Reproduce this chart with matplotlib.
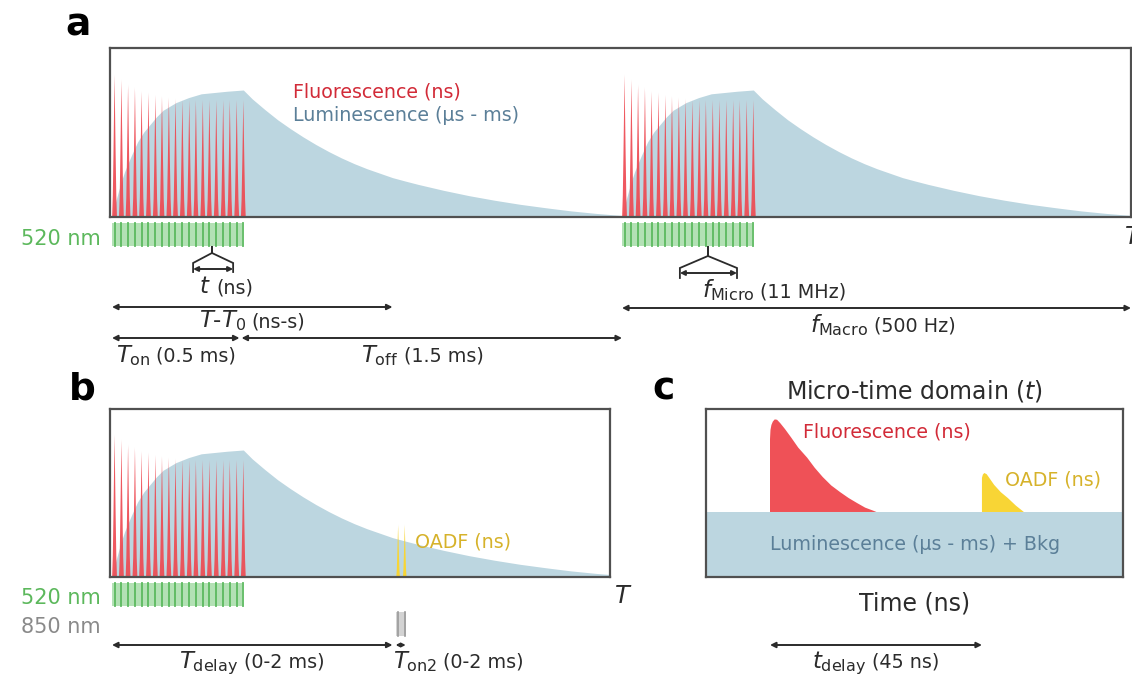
import matplotlib
matplotlib.use("Agg")
import matplotlib.pyplot as plt
import matplotlib.transforms as mtransforms
from matplotlib.patches import Rectangle

T_ON_MS = 0.5          # excitation on-time
T_OFF_MS = 1.5         # excitation off-time
PERIOD_MS = 2.0        # macro period (500 Hz)
T_MINUS_T0_MS = 1.10   # span of the T-T0 arrow
T_DELAY_MS = 1.10      # delay before the 850 nm pulse
T_ON2_MS = 0.04        # 850 nm on-time (drawn width)

# 11 MHz micro pulses inside one on-window (ms) and their fluorescence heights
spike_t_ms = [0.010, 0.037, 0.063, 0.090, 0.116, 0.143, 0.170, 0.196, 0.223, 0.249,
              0.276, 0.303, 0.329, 0.356, 0.382, 0.409, 0.436, 0.462, 0.489, 0.515]
spike_h = [1.12, 1.08, 1.04, 1.02, 0.99, 0.98, 0.96, 0.95, 0.94, 0.93,
           0.92, 0.92, 0.92, 0.92, 0.92, 0.92, 0.92, 0.92, 0.92, 0.92]

# luminescence build-up and decay (ms, normalised to peak)
lum_t_ms = [0.0, 0.01, 0.025, 0.04, 0.05, 0.075, 0.1, 0.125, 0.15, 0.175, 0.2, 0.25,
            0.3, 0.35, 0.4, 0.45, 0.515, 0.55, 0.6, 0.65, 0.7, 0.75, 0.8, 0.85,
            0.9, 0.95, 1.0, 1.05, 1.1, 1.15, 1.2, 1.3, 1.4, 1.5, 1.6, 1.7, 1.8,
            1.9, 2.0]
lum_v = [0.0, 0.09, 0.20, 0.30, 0.36, 0.48, 0.59, 0.67, 0.73, 0.79, 0.84, 0.90,
         0.94, 0.97, 0.98, 0.99, 1.0, 0.93, 0.845, 0.765, 0.695, 0.63, 0.57, 0.515,
         0.465, 0.42, 0.38, 0.345, 0.31, 0.283, 0.257, 0.21, 0.168, 0.132, 0.10,
         0.073, 0.048, 0.028, 0.012]

# OADF spikes in panel b (ms)
oadf_t_ms = [1.122, 1.148]
oadf_h = [0.41, 0.41]

# panel c: micro-time (ns)
bkg_level = 0.387
fl_t_ns = [0.0, 0.0, 0.1, 0.3, 0.6, 1.0, 1.5, 2.2, 3.2, 4.5, 6.0, 7.9, 9.5, 11.2,
           13.0, 14.9, 16.7, 18.5, 20.2, 21.9, 22.6]
fl_v = [0.387, 0.82, 0.875, 0.905, 0.925, 0.938, 0.936, 0.915, 0.88, 0.83, 0.77,
        0.71, 0.65, 0.595, 0.545, 0.505, 0.47, 0.44, 0.413, 0.395, 0.387]
oadf_c_t_ns = [45.0, 45.0, 45.2, 45.5, 46.0, 46.8, 47.6, 49.0, 50.5, 52.2, 53.9]
oadf_c_v = [0.387, 0.59, 0.610, 0.619, 0.612, 0.58, 0.548, 0.505, 0.47, 0.425, 0.387]
T_DELAY_NS = 45

# ---------------- style ----------------
RED = "#ee4a52"
RED_TXT = "#d22b38"
LUM = "#bcd6e0"
LUM_TXT = "#5b7f98"
GREEN_FILL = "#b3e1b5"
GREEN_LINE = "#5cba5f"
GREEN_TXT = "#5cb85c"
YEL = "#f8d535"
YEL_TXT = "#d6b22a"
GRAY_TXT = "#8a8a8a"
EDGE = "#505050"
INK = "#2b2b2b"

W, H = 1132, 674
fig = plt.figure(figsize=(W / 100, H / 100), dpi=100)
ID = mtransforms.IdentityTransform()
PX_Y = mtransforms.Affine2D().scale(1, -1).translate(0, H)


def px_axes(x0, y0, x1, y1):
    return fig.add_axes([x0 / W, 1 - y1 / H, (x1 - x0) / W, (y1 - y0) / H])


def bt(ax):
    return mtransforms.blended_transform_factory(ax.transData, PX_Y)


def style_box(ax, xlim, ylim):
    ax.set_xlim(*xlim)
    ax.set_ylim(*ylim)
    ax.set_autoscale_on(False)
    ax.set_xticks([])
    ax.set_yticks([])
    for s in ax.spines.values():
        s.set_color(EDGE)
        s.set_linewidth(1.6)
        s.set_zorder(5)


def ftext(x, y, s, **kw):
    kw.setdefault("va", "baseline")
    return fig.text(x, H - y, s, transform=ID, **kw)


def pair(anchor_x, y, math, plain, ha="center", msize=16.5, psize=13.8, color=INK):
    t1 = ftext(0, y, math, fontsize=msize, color=color, ha="left")
    t2 = ftext(0, y, plain, fontsize=psize, color=color, ha="left")
    r = fig.canvas.get_renderer()
    w1 = t1.get_window_extent(r).width
    w2 = t2.get_window_extent(r).width
    gap = 0.30 * psize * 100 / 72
    total = w1 + gap + w2
    x0 = anchor_x - total / 2 if ha == "center" else anchor_x
    t1.set_x(x0)
    t2.set_x(x0 + w1 + gap)


def disp_x(ax, x):
    return ax.transData.transform((x, 0))[0]


def harrow(ax, x0, x1, y, ms=8):
    tr = bt(ax)
    ax.annotate("", xy=(x1, y), xytext=(x0, y), xycoords=tr, textcoords=tr,
                arrowprops=dict(arrowstyle="<|-|>", color=INK, lw=1.4, mutation_scale=ms,
                                shrinkA=0, shrinkB=0),
                annotation_clip=False)


def spikes(ax, times, heights, width, color, offset=0.0, alpha=0.92):
    # needle-shaped pulses: broad base, concave sides, sharp tip
    for t, h in zip(times, heights):
        c = t + offset
        xs = [c - width / 2, c - width * 0.36, c - width * 0.22, c, c + width * 0.22,
              c + width * 0.36, c + width / 2]
        ys = [0, 0.15 * h, 0.45 * h, h, 0.45 * h, 0.15 * h, 0]
        ax.fill(xs, ys, color=color, lw=0, alpha=alpha, zorder=3)


def train(ax, t0, t1, line_ts, ytop, ybot, fill, line, lw=1.3):
    tr = bt(ax)
    ax.add_patch(Rectangle((t0, ytop), t1 - t0, ybot - ytop, transform=tr,
                           facecolor=fill, edgecolor="none", clip_on=False))
    for t in line_ts:
        ax.plot([t, t], [ytop, ybot], transform=tr, color=line, lw=lw, clip_on=False)


def bracket(ax, xc, xl, xr, y0, y1, y2, y3, ya):
    tr = bt(ax)
    kw = dict(transform=tr, color=INK, lw=1.3, clip_on=False, solid_joinstyle="miter")
    ax.plot([xl, xl, xc, xc, xc, xr, xr], [y3, y2, y1, y0, y1, y2, y3], **kw)
    harrow(ax, xl, xr, ya, ms=7)


PX_PER_MS = 255.0
# ---------------- panel a ----------------
ax_a = px_axes(110, 48, 1131, 217)
style_box(ax_a, ((110 - 112) / PX_PER_MS, (1131 - 112) / PX_PER_MS), (0, 169 / 127))
for k in range(2):
    off = k * PERIOD_MS
    ax_a.fill_between([t + off for t in lum_t_ms], 0, lum_v, color=LUM, lw=0, zorder=1)
    spikes(ax_a, spike_t_ms, spike_h, 0.019, RED, offset=off)
    train(ax_a, off, off + T_ON_MS + 0.01, [t + off for t in spike_t_ms], 223, 246,
          GREEN_FILL, GREEN_LINE)

ftext(293, 98, "Fluorescence (ns)", fontsize=13.7, color=RED_TXT)
ftext(293, 121, "Luminescence (µs - ms)", fontsize=13.7, color=LUM_TXT)
ftext(101, 245, "520 nm", fontsize=15, color=GREEN_TXT, ha="right")
ftext(1124, 244, "$T$", fontsize=17.5, color=INK, ha="left")
ftext(78, 36, "a", fontsize=27, fontweight="bold", color="black", ha="center")

# micro bracket t
bracket(ax_a, 0.392, 0.318, 0.475, 246, 253, 263, 272, 269)
pair(199, 293, "$t$", "(ns)", ha="left")
# f micro bracket
bracket(ax_a, PERIOD_MS + 0.337, PERIOD_MS + 0.227, PERIOD_MS + 0.451, 246, 256, 268, 278, 273)
pair(702, 297, r"$f_{\mathrm{Micro}}$", "(11 MHz)", ha="left")

harrow(ax_a, 0, T_MINUS_T0_MS, 307)
pair(disp_x(ax_a, T_MINUS_T0_MS / 2), 327, r"$T$-$T_{\mathit{0}}$", "(ns-s)")
harrow(ax_a, 0, T_ON_MS, 338)
harrow(ax_a, T_ON_MS + 0.008, T_ON_MS + T_OFF_MS, 338)
pair(disp_x(ax_a, T_ON_MS / 2), 362, r"$T_{\mathrm{on}}$", "(0.5 ms)")
pair(disp_x(ax_a, T_ON_MS + T_OFF_MS / 2) - 8, 362, r"$T_{\mathrm{off}}$", "(1.5 ms)")
harrow(ax_a, PERIOD_MS, (1131 - 112) / PX_PER_MS, 308)
pair(disp_x(ax_a, PERIOD_MS + 1.0) + 6, 332, r"$f_{\mathrm{Macro}}$", "(500 Hz)")

# ---------------- panel b ----------------
ax_b = px_axes(110, 409, 610, 577)
style_box(ax_b, ((110 - 112) / PX_PER_MS, (610 - 112) / PX_PER_MS), (0, 168 / 127))
ax_b.fill_between(lum_t_ms, 0, lum_v, color=LUM, lw=0, zorder=1)
spikes(ax_b, spike_t_ms, spike_h, 0.019, RED)
spikes(ax_b, oadf_t_ms, oadf_h, 0.014, YEL, alpha=1.0)
train(ax_b, 0, T_ON_MS + 0.01, spike_t_ms, 583, 606, GREEN_FILL, GREEN_LINE)
train(ax_b, oadf_t_ms[0] - 0.008, oadf_t_ms[1] + 0.006, oadf_t_ms, 612, 636,
      "#d3d3d3", "#9a9a9a", lw=1.2)

ftext(415, 548, "OADF (ns)", fontsize=13.7, color=YEL_TXT)
ftext(101, 604, "520 nm", fontsize=15, color=GREEN_TXT, ha="right")
ftext(101, 633, "850 nm", fontsize=15, color=GRAY_TXT, ha="right")
ftext(614, 603, "$T$", fontsize=17.5, color=INK, ha="left")
ftext(82, 399, "b", fontsize=27, fontweight="bold", color="black", ha="center")

harrow(ax_b, 0, T_DELAY_MS, 645)
harrow(ax_b, T_DELAY_MS + 0.012, T_DELAY_MS + 0.012 + T_ON2_MS, 645, ms=5)
pair(disp_x(ax_b, T_DELAY_MS / 2), 668, r"$T_{\mathrm{delay}}$", "(0-2 ms)")
pair(393, 668, r"$T_{\mathrm{on2}}$", "(0-2 ms)", ha="left")

# ---------------- panel c ----------------
PX_PER_NS = 4.71
ax_c = px_axes(706, 409, 1123, 577)
style_box(ax_c, ((706 - 770) / PX_PER_NS, (1123 - 770) / PX_PER_NS), (0, 1))
ax_c.axhspan(0, bkg_level, color=LUM, lw=0, zorder=1)
ax_c.fill(fl_t_ns, fl_v, color="#ef5157", lw=0, zorder=2)
ax_c.fill(oadf_c_t_ns, oadf_c_v, color=YEL, lw=0, zorder=2)

ftext(803, 437, "Fluorescence (ns)", fontsize=13.7, color=RED_TXT)
ftext(1005, 485, "OADF (ns)", fontsize=13.7, color=YEL_TXT)
ftext(915, 550, "Luminescence (µs - ms) + Bkg", fontsize=13.7, color=LUM_TXT, ha="center")
ftext(915, 398, "Micro-time domain ($t$)", fontsize=17, color=INK, ha="center")
ftext(915, 610, "Time (ns)", fontsize=17, color=INK, ha="center")
ftext(664, 399, "c", fontsize=27, fontweight="bold", color="black", ha="center")

harrow(ax_c, 0, T_DELAY_NS, 645)
pair(disp_x(ax_c, T_DELAY_NS / 2), 668, r"$t_{\mathrm{delay}}$", "(45 ns)")

fig.savefig("out.png", dpi=100)
